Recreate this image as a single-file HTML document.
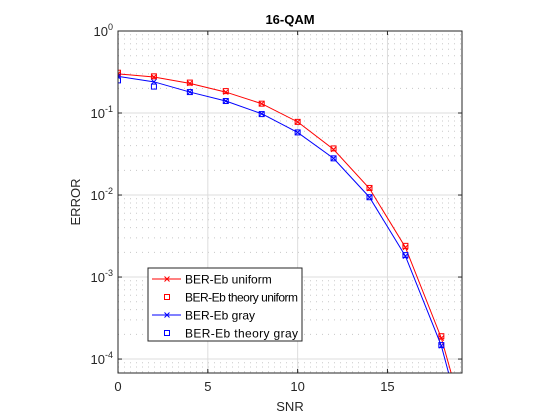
<!DOCTYPE html>
<html><head><meta charset="utf-8"><style>body{margin:0;background:#fff}svg{display:block;font-family:"Liberation Sans",sans-serif}</style></head>
<body>
<svg id="c" width="560" height="420" xmlns="http://www.w3.org/2000/svg"></svg>
<script>
const snr=[0,2,4,6,8,10,12,14,16,18];
const berUniform=[0.30,0.275,0.23,0.18,0.13,0.078,0.036,0.012,0.0023,0.00018];
const berTheoryUniform=[0.31,0.28,0.235,0.185,0.13,0.078,0.037,0.0122,0.0024,0.00019];
const berGray=[0.28,0.24,0.18,0.14,0.098,0.058,0.028,0.0094,0.0018,0.000145];
const berTheoryGray=[0.25,0.21,0.18,0.14,0.097,0.058,0.028,0.0094,0.00185,0.000148];
const lineExtraX=19,lineExtraUniform=0.00003,lineExtraGray=0.000022;
const xTicks=[0,5,10,15];
const yDecades=[0,-1,-2,-3,-4];
const L=118,R=462,T=31,B=373,xMax=19.15,yTopExp=0,yBotExp=-4.17;
const X=v=>L+(v/xMax)*(R-L);
const Y=v=>T+(yTopExp-Math.log10(v))/(yTopExp-yBotExp)*(B-T);
const s=document.getElementById('c'),NS='http://www.w3.org/2000/svg';
function el(t,a,p){const e=document.createElementNS(NS,t);for(const k in a)e.setAttribute(k,a[k]);(p||s).appendChild(e);return e;}
const defs=el('defs',{});const cp=el('clipPath',{id:'clip'},defs);el('rect',{x:L,y:T,width:R-L,height:B-T},cp);
el('rect',{x:L,y:T,width:R-L,height:B-T,fill:'#fff'});
const grid=el('g',{});
for(let d=-5;d<0;d++)for(let m=2;m<=9;m++){const v=m*Math.pow(10,d);if(v<Math.pow(10,yBotExp))continue;const y=Y(v);
el('line',{x1:L,x2:R,y1:y,y2:y,stroke:'#c8c8c8','stroke-dasharray':'1 5','stroke-width':1},grid);}
yDecades.forEach(d=>{const y=Y(Math.pow(10,d));el('line',{x1:L,x2:R,y1:y,y2:y,stroke:'#ddd'},grid);});
xTicks.forEach(v=>{el('line',{x1:X(v),x2:X(v),y1:T,y2:B,stroke:'#ddd'},grid);});
function series(xs,ys,col,name,ex,ey){const g=el('g',{'clip-path':'url(#clip)'});
const pts=xs.map((x,i)=>X(x)+','+Y(ys[i]));pts.push(X(ex)+','+Y(ey));
el('polyline',{points:pts.join(' '),fill:'none',stroke:col,'stroke-width':1},g);
xs.forEach((x,i)=>{const cx=X(x),cy=Y(ys[i]);el('path',{d:`M${cx-2.5},${cy-2.5}L${cx+2.5},${cy+2.5}M${cx-2.5},${cy+2.5}L${cx+2.5},${cy-2.5}`,stroke:col,'stroke-width':1},g);});}
function squares(xs,ys,col,name){const g=el('g',{'clip-path':'url(#clip)'});
xs.forEach((x,i)=>{el('rect',{x:X(x)-2.5,y:Y(ys[i])-2.5,width:5,height:5,fill:'none',stroke:col,'stroke-width':1},g);});}
series(snr,berUniform,'#f00','series-uniform',lineExtraX,lineExtraUniform);
squares(snr,berTheoryUniform,'#f00','series-theory-uniform');
series(snr,berGray,'#00f','series-gray',lineExtraX,lineExtraGray);
squares(snr,berTheoryGray,'#00f','series-theory-gray');
el('rect',{x:L,y:T,width:R-L,height:B-T,fill:'none',stroke:'#262626','stroke-width':1});
xTicks.forEach(v=>{const x=X(v);el('line',{x1:x,x2:x,y1:B,y2:B-4,stroke:'#262626'});el('line',{x1:x,x2:x,y1:T,y2:T+4,stroke:'#262626'});
const t=el('text',{x:x,y:391,'text-anchor':'middle','font-size':13,fill:'#262626'});t.textContent=v;});
yDecades.forEach(d=>{const y=Y(Math.pow(10,d));el('line',{x1:L,x2:L+4,y1:y,y2:y,stroke:'#262626'});el('line',{x1:R,x2:R-4,y1:y,y2:y,stroke:'#262626'});
const t=el('text',{x:113,y:y+5,'text-anchor':'end','font-size':13,fill:'#262626'});t.textContent='10';
const sp=el('tspan',{dy:-6,'font-size':9},t);sp.textContent=d;});
let t=el('text',{x:290,y:24,'text-anchor':'middle','font-size':13,'font-weight':'bold',fill:'#000'});t.textContent='16-QAM';
t=el('text',{x:290,y:411,'text-anchor':'middle','font-size':13,fill:'#262626'});t.textContent='SNR';
t=el('text',{x:80,y:202,'text-anchor':'middle','font-size':13,fill:'#262626',transform:'rotate(-90 80 202)'});t.textContent='ERROR';
const lg=el('g',{});
el('rect',{x:148,y:268,width:154,height:73,fill:'#fff',stroke:'#262626'},lg);
const items=[['BER-Eb uniform','#f00',1],['BER-Eb theory uniform','#f00',0],['BER-Eb gray','#00f',1],['BER-Eb theory gray','#00f',0]];
items.forEach((it,i)=>{const y=279+i*18;const g=el('g',{},lg);
if(it[2]){el('line',{x1:152,x2:181,y1:y,y2:y,stroke:it[1]},g);el('path',{d:`M${164.5},${y-2.5}L${169.5},${y+2.5}M${164.5},${y+2.5}L${169.5},${y-2.5}`,stroke:it[1]},g);}
else el('rect',{x:164.5,y:y-2.5,width:5,height:5,fill:'none',stroke:it[1]},g);
const tx=el('text',{x:185,y:y+4.5,'font-size':12,textLength:it[0].length>16?113:null,fill:'#000'},g);if(!tx.getAttribute('textLength')||tx.getAttribute('textLength')==='null')tx.removeAttribute('textLength');tx.textContent=it[0];});
</script>
</body></html>
